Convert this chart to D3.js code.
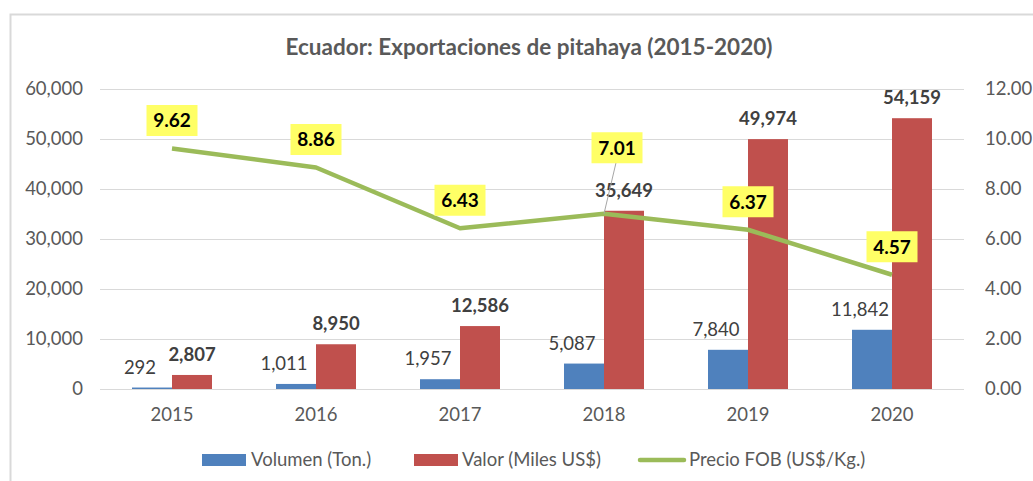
<!DOCTYPE html>
<html>
<head>
<meta charset="utf-8">
<script src="https://cdn.jsdelivr.net/npm/d3@7"></script>
<style>
  body { margin: 0; background: #fff; }
  svg text { font-family: Lato, "Open Sans", sans-serif; }
</style>
</head>
<body>
<div id="main"></div>
<script>
// data
const years = ['2015', '2016', '2017', '2018', '2019', '2020'];
const volumen = [292, 1011, 1957, 5087, 7840, 11842];
const valor = [2807, 8950, 12586, 35649, 49974, 54159];
const precio = [9.62, 8.86, 6.43, 7.01, 6.37, 4.57];
const leftTicks = [0, 10000, 20000, 30000, 40000, 50000, 60000];
const rightTicks = [0, 2, 4, 6, 8, 10, 12];
const seriesNames = ['Volumen (Ton.)', 'Valor (Miles US$)', 'Precio FOB (US$/Kg.)'];

const width = 1033;
const height = 481;
const margin = { top: 89, right: 69, bottom: 92, left: 100 };
const blue = '#4f81bd', red = '#c0504d', green = '#9bbb59';
const fs = 18.5;

const svg = d3.select('#main')
  .append('svg')
  .attr('width', width)
  .attr('height', height);

// chart frame (runs off the right and bottom of the picture)
svg.append('rect')
  .attr('x', 10.5).attr('y', 14.5)
  .attr('width', width + 20).attr('height', height + 20)
  .attr('fill', 'none')
  .attr('stroke', '#d9d9d9')
  .attr('stroke-width', 2);

svg.append('text')
  .attr('x', 529).attr('y', 55)
  .attr('text-anchor', 'middle')
  .attr('font-size', 22.5)
  .attr('font-weight', 'bold')
  .attr('fill', '#595959')
  .text('Ecuador: Exportaciones de pitahaya (2015-2020)');

const x0 = d3.scaleBand()
  .domain(years)
  .range([margin.left, width - margin.right]);

const barW = x0.bandwidth() / 3.6;
const x1 = d3.scaleBand()
  .domain(['vol', 'val'])
  .range([x0.bandwidth() / 2 - barW, x0.bandwidth() / 2 + barW]);

const yL = d3.scaleLinear()
  .domain([0, 60000])
  .range([height - margin.bottom, margin.top]);

const yR = d3.scaleLinear()
  .domain([0, 12])
  .range([height - margin.bottom, margin.top]);

// gridlines + left axis
const yAxisL = d3.axisLeft(yL)
  .tickValues(leftTicks)
  .tickFormat(d3.format(','))
  .tickSize(-(width - margin.left - margin.right))
  .tickPadding(17);

const gL = svg.append('g')
  .attr('transform', `translate(${margin.left},0)`)
  .call(yAxisL);
gL.select('.domain').remove();
gL.selectAll('line').attr('stroke', '#d9d9d9');
gL.selectAll('text').attr('font-size', fs).attr('fill', '#595959');

const yAxisR = d3.axisRight(yR)
  .tickValues(rightTicks)
  .tickFormat(d3.format('.2f'))
  .tickSize(0)
  .tickPadding(21);

const gR = svg.append('g')
  .attr('transform', `translate(${width - margin.right},0)`)
  .call(yAxisR);
gR.select('.domain').remove();
gR.selectAll('text').attr('font-size', fs).attr('fill', '#595959');

const xAxis = d3.axisBottom(x0).tickSize(0).tickPadding(19);
const gX = svg.append('g')
  .attr('transform', `translate(0,${height - margin.bottom})`)
  .call(xAxis);
gX.select('.domain').remove();
gX.selectAll('text').attr('font-size', fs).attr('fill', '#595959');

const rows = years.map((y, i) => ({ year: y, vol: volumen[i], val: valor[i], p: precio[i] }));

const groups = svg.append('g').selectAll('g')
  .data(rows)
  .join('g')
  .attr('transform', d => `translate(${x0(d.year)},0)`);

groups.append('rect')
  .attr('x', x1('vol'))
  .attr('width', x1.bandwidth())
  .attr('y', d => yL(d.vol))
  .attr('height', d => yL(0) - yL(d.vol))
  .attr('fill', blue);

groups.append('rect')
  .attr('x', x1('val'))
  .attr('width', x1.bandwidth())
  .attr('y', d => yL(d.val))
  .attr('height', d => yL(0) - yL(d.val))
  .attr('fill', red);

groups.append('text')
  .attr('x', x1('vol') + x1.bandwidth() / 2 - 12)
  .attr('y', d => yL(d.vol) - 14)
  .attr('text-anchor', 'middle')
  .attr('font-size', fs)
  .attr('fill', '#404040')
  .text(d => d3.format(',')(d.vol));

groups.append('text')
  .attr('x', x1('val') + x1.bandwidth() / 2)
  .attr('y', d => yL(d.val) - 14)
  .attr('text-anchor', 'middle')
  .attr('font-size', fs)
  .attr('font-weight', 'bold')
  .attr('fill', '#404040')
  .text(d => d3.format(',')(d.val));

// price line
const cx = d => x0(d.year) + x0.bandwidth() / 2;
const line = d3.line()
  .x(cx)
  .y(d => yR(d.p));

svg.append('path')
  .attr('d', line(rows))
  .attr('fill', 'none')
  .attr('stroke', green)
  .attr('stroke-width', 4.5)
  .attr('stroke-linejoin', 'round');

// leader line for the lifted 2018 label
svg.append('line')
  .attr('x1', cx(rows[3]) + 12).attr('y1', yR(rows[3].p) - 51)
  .attr('x2', cx(rows[3])).attr('y2', yR(rows[3].p))
  .attr('stroke', '#a6a6a6')
  .attr('stroke-width', 1);

// price labels in yellow boxes
const boxW = 51, boxH = 31;
const lab = svg.append('g').selectAll('g')
  .data(rows)
  .join('g')
  .attr('transform', d => {
    const lifted = d.year === '2018';
    const bx = cx(d) + (lifted ? 13 : 0);
    const by = yR(d.p) - (lifted ? 66 : 28);
    return `translate(${bx},${by})`;
  });

lab.append('rect')
  .attr('x', -boxW / 2).attr('y', -boxH / 2)
  .attr('width', boxW).attr('height', boxH)
  .attr('fill', '#ffff66');

lab.append('text')
  .attr('text-anchor', 'middle')
  .attr('dy', '0.36em')
  .attr('font-size', 19)
  .attr('font-weight', 'bold')
  .attr('fill', '#000')
  .text(d => d3.format('.2f')(d.p));

// legend
const legend = svg.append('g').attr('transform', 'translate(0,460)');
const legX = [202, 414, 638];
const legTextX = [251, 462, 689];

legend.append('rect').attr('x', legX[0]).attr('y', -6).attr('width', 44).attr('height', 12).attr('fill', blue);
legend.append('rect').attr('x', legX[1]).attr('y', -6).attr('width', 44).attr('height', 12).attr('fill', red);
legend.append('line')
  .attr('x1', legX[2] + 2).attr('x2', legX[2] + 46)
  .attr('y1', 0).attr('y2', 0)
  .attr('stroke', green).attr('stroke-width', 4.5).attr('stroke-linecap', 'round');

legend.selectAll('text.leg')
  .data(seriesNames)
  .join('text')
  .attr('class', 'leg')
  .attr('x', (d, i) => legTextX[i])
  .attr('dy', '0.35em')
  .attr('font-size', fs)
  .attr('fill', '#595959')
  .text(d => d);
</script>
</body>
</html>
